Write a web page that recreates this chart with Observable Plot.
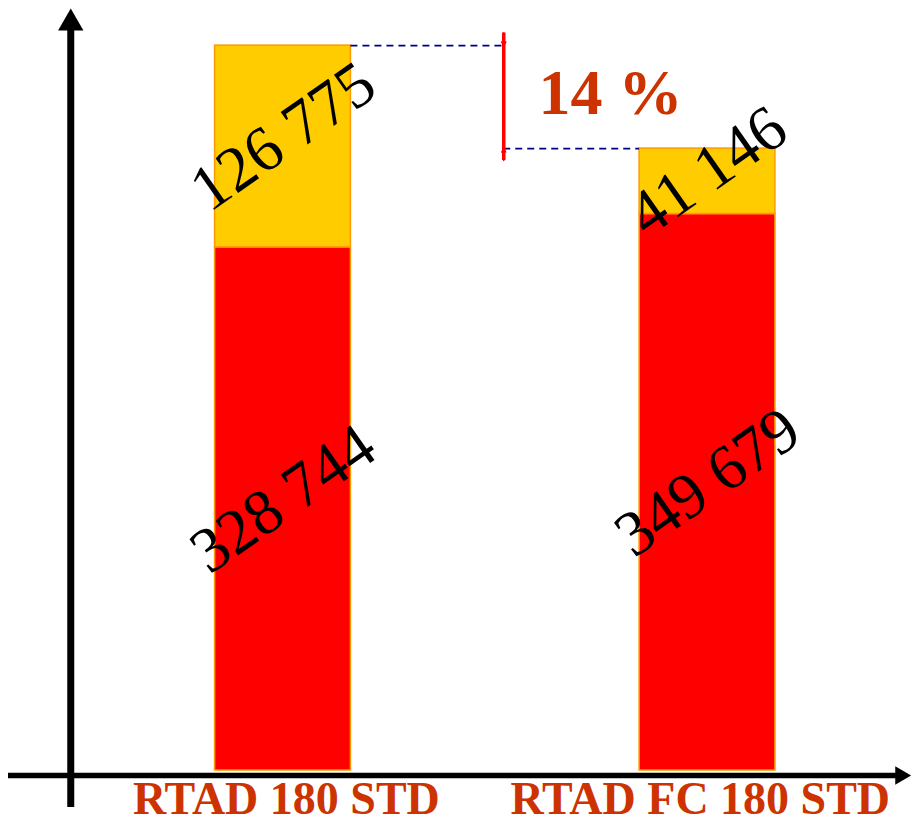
<!DOCTYPE html>
<html><head><meta charset="utf-8">
<script src="https://cdn.jsdelivr.net/npm/d3@7"></script>
<script src="https://cdn.jsdelivr.net/npm/@observablehq/plot@0.6"></script>
<style>body{margin:0;background:#fff;overflow:hidden}</style>
</head><body><div id="chart"></div>
<script>
// ---- data ----
const categories = ["RTAD 180 STD", "RTAD FC 180 STD"];
const baseValues = [328744, 349679];   // red segment
const extraValues = [126775, 41146];   // yellow segment
const seriesNames = ["base", "extra"];
const seriesColors = ["#FF0000", "#FFCC00"];

// ---- derived table ----
const rows = [];
categories.forEach((c, i) => {
  rows.push({cat: c, i, series: "base", value: baseValues[i], y1: 0, y2: baseValues[i]});
  rows.push({cat: c, i, series: "extra", value: extraValues[i], y1: baseValues[i], y2: baseValues[i] + extraValues[i]});
});
const totals = categories.map((c, i) => baseValues[i] + extraValues[i]);
const pct = (totals[0] - totals[1]) / totals[0];

const fmt = d3.formatLocale({thousands: " ", grouping: [3], decimal: ",", currency: ["", ""]}).format(",");

// layout helpers (in scale units)
const hw = 0.16;          // half bar width
const mx = 0.52;          // position of the difference marker
const axisY = -3142;      // x-axis baseline (slightly under zero)
const serif = "'Liberation Serif', 'Times New Roman', serif";

const chart = Plot.plot({
  width: 913,
  height: 824,
  marginTop: 0, marginRight: 0, marginBottom: 0, marginLeft: 0,
  x: {domain: [-282.5 / 424.5, (913 - 282.5) / 424.5], axis: null},
  y: {domain: [0, 460000], range: [770, 38], axis: null},
  color: {domain: seriesNames, range: seriesColors},
  style: {fontFamily: serif, background: "white", overflow: "visible"},
  marks: [
    // bars
    Plot.rect(rows, {x1: d => d.i - hw, x2: d => d.i + hw, y1: "y1", y2: "y2", fill: "series", stroke: "#FF9900", strokeWidth: 1.5}),
    // dashed guide lines
    Plot.ruleY([{y: totals[0], a: hw, b: mx}, {y: totals[1], a: mx, b: 1 - hw}],
      {y: "y", x1: "a", x2: "b", stroke: "#000080", strokeWidth: 1.6, strokeDasharray: "7,5"}),
    // red difference marker
    Plot.ruleX([mx], {y1: totals[0] + 8000, y2: totals[1] - 7500, stroke: "#FF0000", strokeWidth: 3.5}),
    Plot.arrow([{y1: totals[0] + 8000, y2: totals[0]}, {y1: totals[1] - 7500, y2: totals[1]}],
      {x1: mx, x2: mx, y1: "y1", y2: "y2", stroke: "#FF0000", strokeWidth: 1.5, headLength: 9}),
    // y axis
    Plot.ruleX([-0.5], {y1: -23250, y2: 465000, stroke: "black", strokeWidth: 7}),
    Plot.dot([{x: -0.5, y: 469600}], {x: "x", y: "y", symbol: "triangle", r: 9.4, fill: "black", stroke: null}),
    // x axis
    Plot.ruleY([axisY], {x1: -0.6466, x2: 1.447, stroke: "black", strokeWidth: 5.5}),
    Plot.dot([{x: 1.4547, y: axisY}], {x: "x", y: "y", symbol: "triangle", r: 6.8, rotate: 90, fill: "black", stroke: null}),
    // value labels
    Plot.text(rows, {x: "i", y: d => (d.y1 + d.y2) / 2, text: d => fmt(d.value), rotate: -35, fontSize: 64, fill: "black", dy: -10, fontFamily: serif}),
    // category labels
    Plot.text(categories, {x: (d, i) => i * 0.975 + 0.008, frameAnchor: "bottom", lineAnchor: "bottom", dy: -11, text: d => d, fontSize: 46, fontWeight: "bold", fill: "#CC3300", fontFamily: serif}),
    // percentage
    Plot.text([pct], {x: 0.7715, y: (totals[0] + totals[1]) / 2, text: d => Math.round(d * 100) + " %", fontSize: 64, fontWeight: "bold", fill: "#CC3300", dy: -4, fontFamily: serif})
  ]
});
document.getElementById("chart").appendChild(chart);
</script>
</body></html>
